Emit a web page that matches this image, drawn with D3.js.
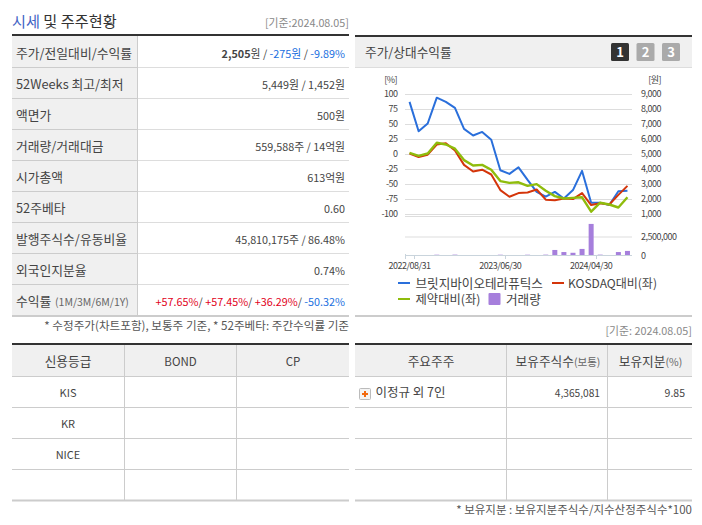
<!DOCTYPE html>
<html>
<head>
<meta charset="utf-8">
<script src="https://cdn.jsdelivr.net/npm/d3@7"></script>
<style>
  html, body { margin: 0; padding: 0; background: #fff; }
  text { font-family: "Noto Sans CJK KR", "Noto Sans", sans-serif; }
</style>
</head>
<body>
<div id="my_dataviz"></div>
<script>
// chart data
var months = ["2022/08/31","2022/09/30","2022/10/31","2022/11/30","2022/12/31","2023/01/31","2023/02/28","2023/03/31","2023/04/30","2023/05/31","2023/06/30","2023/07/31","2023/08/31","2023/09/30","2023/10/31","2023/11/30","2023/12/31","2024/01/31","2024/02/29","2024/03/31","2024/04/30","2024/05/31","2024/06/30","2024/07/31","2024/08/05"];
var stock  = [86,37,50,93,86,76,41,30,36,23,-28,-34,-23,-44,-64,-72,-64,-75,-61,-29,-82,-82,-86,-63,-62];
var kosdaq = [0,-6,-2,15,17,5,-19,-30,-27,-35,-61,-72,-66,-65,-60,-77,-78,-75,-76,-66,-86,-83,-85,-69,-54];
var pharma = [1,-4,0,18,15,8,-11,-20,-19,-27,-46,-49,-48,-54,-51,-62,-71,-75,-74,-73,-97,-82,-85,-90,-73];
var volume = [0,0,0,40000,0,50000,0,0,0,0,40000,0,0,40000,0,50000,680000,400000,300000,820000,4200000,50000,0,400000,550000];

var leftTicks = [100,75,50,25,0,-25,-50,-75,-100];
var rightTicks = [9000,8000,7000,6000,5000,4000,3000,2000,1000];
var volTicks = [0,2500000];
var xTickLabels = ["2022/08/31","2023/06/30","2024/04/30"];

// price table
var priceLabels = ["주가/전일대비/수익률","52Weeks 최고/최저","액면가","거래량/거래대금","시가총액","52주베타","발행주식수/유동비율","외국인지분율","수익률"];
var priceValues = ["5,449원 / 1,452원","500원","559,588주 / 14억원","613억원","0.60","45,810,175주 / 86.48%","0.74%"];
var returns = ["+57.65%","+57.45%","+36.29%","-50.32%"];

// lower tables
var ratingHeaders = ["신용등급","BOND","CP"];
var ratingAgencies = ["KIS","KR","NICE",""];
var holderHeaders = ["주요주주","보유주식수","보유지분"];
var holderName = "이정규 외 7인";
var holderShares = "4,365,081";
var holderPct = "9.85";

var legendNames = ["브릿지바이오테라퓨틱스","KOSDAQ대비(좌)","제약대비(좌)","거래량"];
var colors = {stock:"#2a6fdb", kosdaq:"#d4350a", pharma:"#8fbc0c", vol:"#a67fdc"};

var svg = d3.select("#my_dataviz").append("svg")
  .attr("width", 702).attr("height", 525)
  .style("display", "block");

var ink = "#444", grid = "#ddd", rule = "#ccc", dark = "#333", head = "#f0f0f0";

function line(g, x1, y1, x2, y2, color, w) {
  g.append("line").attr("x1",x1).attr("y1",y1).attr("x2",x2).attr("y2",y2)
    .attr("stroke",color).attr("stroke-width",w||1);
}
function label(g, x, y, str, size, anchor, color) {
  return g.append("text").attr("x",x).attr("y",y).text(str)
    .attr("font-size",size).attr("text-anchor",anchor||"start").attr("fill",color||ink);
}
// axis numbers are squeezed in the reference
function axisLabel(g, x, y, str, anchor) {
  return label(g, x, y, str, 9, anchor).style("letter-spacing","-0.5px");
}

// ---- price table ----
var t1 = svg.append("g");
var h1 = label(t1, 12, 27, "", 15.2);
h1.append("tspan").text("시세").attr("fill","#3f63c4");
h1.append("tspan").text(" 및 주주현황").attr("fill","#333");
label(t1, 349, 27, "[기준:2024.08.05]", 10.8, "end", "#888");

var rowY = d3.range(10).map(function(i) { return 36 + 31*i; });
t1.append("rect").attr("x",12).attr("y",36).attr("width",125).attr("height",279).attr("fill",head);
rowY.slice(1,9).forEach(function(y) { line(t1, 12, y+0.5, 349, y+0.5, "#ddd"); line(t1, 12, y+0.5, 137, y+0.5, rule); });
line(t1, 137.5, 36, 137.5, 315, rule);
line(t1, 12, 35, 349, 35, dark, 2);
line(t1, 12, 316, 349, 316, rule, 2);
priceLabels.forEach(function(s, i) { label(t1, 16, rowY[i]+22, s, 12.8); });
label(t1, 55, rowY[8]+21.5, "(1M/3M/6M/1Y)", 10.5, "start", "#666");

var first = label(t1, 345, rowY[0]+21.5, "", 10.8, "end");
first.append("tspan").text("2,505").attr("font-weight","bold");
first.append("tspan").text("원 / ");
first.append("tspan").text("-275원").attr("fill","#1a6fe0");
first.append("tspan").text(" / ");
first.append("tspan").text("-9.89%").attr("fill","#1a6fe0");
priceValues.forEach(function(s, i) { label(t1, 345, rowY[i+1]+21.5, s, 10.8, "end"); });
var ret = label(t1, 345, rowY[8]+21.5, "", 10.8, "end");
returns.forEach(function(s, i) {
  ret.append("tspan").text(s).attr("fill", s[0]=="+" ? "#e2001a" : "#1a6fe0");
  if (i<3) ret.append("tspan").text("/ ");
});
label(t1, 349, 330, "* 수정주가(차트포함), 보통주 기준, * 52주베타: 주간수익률 기준", 11.6, "end", "#555");

// ---- chart panel ----
var p = svg.append("g");
p.append("rect").attr("x",355).attr("y",36).attr("width",337).attr("height",31).attr("fill",head);
line(p, 355, 36, 692, 36, dark, 2);
line(p, 355, 67.5, 692, 67.5, "#ddd");
line(p, 355, 316, 692, 316, rule, 2);
label(p, 365, 57, "주가/상대수익률", 12.7, "start", "#444");
["1","2","3"].forEach(function(s, i) {
  p.append("rect").attr("x",611+25.5*i).attr("y",43).attr("width",18).attr("height",18).attr("rx",1.5)
    .attr("fill", i==0 ? "#333" : "#aaa");
  label(p, 620+25.5*i, 57, s, 13, "middle", "#fff").attr("font-weight","bold");
});

var x = d3.scaleBand().domain(months).range([405, 632]);
var y = d3.scaleLinear().domain([-100,100]).range([213.5, 93.5]);
var yr = d3.scaleLinear().domain([1000,9000]).range([213.5, 93.5]);
var yv = d3.scaleLinear().domain([0,2500000]).range([255, 236.5]);

var cx = function(d, i) { return x(months[i]) + x.bandwidth()/2; };

// gridlines, one set for each part of the plot
var plot = svg.append("g");
leftTicks.forEach(function(t) { line(plot, 405, Math.round(y(t))+0.5, 632, Math.round(y(t))+0.5, grid); });
line(plot, 405, 216.5, 632, 216.5, grid);
line(plot, 405, yv(2500000)+0.5, 632, yv(2500000)+0.5, grid);
line(plot, 405, 255.5, 632, 255.5, "#c9d4dc");
line(plot, 405.5, 254, 405.5, 259, "#c9d4dc");
xTickLabels.forEach(function(s) {
  var tx = Math.round(x(s) + x.bandwidth()) + 0.5;
  line(plot, tx, 255, tx, 259, "#c9d4dc");
  axisLabel(plot, x(s) + x.bandwidth()/2, 269, s, "middle");
});

// axes
var ax = svg.append("g");
leftTicks.forEach(function(t) { axisLabel(ax, 397.5, y(t)+3.5, String(t), "end"); });
rightTicks.forEach(function(t) { axisLabel(ax, 641, yr(t)+3.5, d3.format(",")(t)); });
volTicks.forEach(function(t) { axisLabel(ax, 641, yv(t)+3.5, d3.format(",")(t)); });
axisLabel(ax, 397, 83, "[%]", "end");
axisLabel(ax, 661, 83, "[원]", "end");

// volume bars
svg.append("g").selectAll("rect").data(volume).enter().append("rect")
  .attr("x", function(d, i) { return cx(d, i) - 2.5; })
  .attr("width", 5)
  .attr("y", function(d) { return yv(d); })
  .attr("height", function(d) { return 255 - yv(d); })
  .attr("fill", colors.vol);

// lines
var path = d3.line().x(cx).y(function(d) { return y(d); });
[[stock,colors.stock,2],[kosdaq,colors.kosdaq,2],[pharma,colors.pharma,2.4]].forEach(function(s) {
  svg.append("path").datum(s[0]).attr("d", path).attr("fill","none")
    .attr("stroke", s[1]).attr("stroke-width", s[2]).attr("stroke-linejoin","round");
});

// legend
var lg = svg.append("g");
var legendPos = [[398,283,colors.stock,415.5,0,12.6],[552,283,colors.kosdaq,568,1,12],[398,299,colors.pharma,415.5,2,12.3]];
legendPos.forEach(function(l) {
  line(lg, l[0], l[1], l[0]+12, l[1], l[2], 2);
  label(lg, l[3], l[1]+4.5, legendNames[l[4]], l[5], "start", "#444");
});
lg.append("rect").attr("x",488.5).attr("y",293).attr("width",12).attr("height",12).attr("rx",1).attr("fill",colors.vol);
label(lg, 506, 303.5, legendNames[3], 12.6, "start", "#444");

// ---- credit rating table ----
var t2 = svg.append("g");
var lowY = [345,376,407,438,469,500];
t2.append("rect").attr("x",12).attr("y",345).attr("width",337).attr("height",31).attr("fill",head);
line(t2, 12, 344, 349, 344, dark, 2);
lowY.slice(1,5).forEach(function(yy) { line(t2, 12, yy+0.5, 349, yy+0.5, rule); });
line(t2, 12, 500.5, 349, 500.5, rule, 2);
[124.5,236.5].forEach(function(xx) { line(t2, xx, 345, xx, 500, rule); });
var colMid = [68,180.5,293];
ratingHeaders.forEach(function(s, i) { label(t2, colMid[i], 366, s, i==0 ? 12.7 : 11.5, "middle"); });
ratingAgencies.forEach(function(s, i) { label(t2, 68, lowY[i+1]+21, s, 11, "middle"); });

// ---- shareholder table ----
var t3 = svg.append("g");
t3.append("rect").attr("x",355).attr("y",345).attr("width",337).attr("height",31).attr("fill",head);
line(t3, 355, 344, 692, 344, dark, 2);
lowY.slice(1,5).forEach(function(yy) { line(t3, 355, yy+0.5, 692, yy+0.5, rule); });
line(t3, 355, 500.5, 692, 500.5, rule, 2);
[506.5,607.5].forEach(function(xx) { line(t3, xx, 345, xx, 500, rule); });
label(t3, 431, 366, holderHeaders[0], 12.7, "middle");
var hh = label(t3, 558, 366, "", 12.7, "middle");
hh.append("tspan").text(holderHeaders[1]);
hh.append("tspan").text("(보통)").attr("font-size",10.5).attr("fill","#666");
var hp = label(t3, 650.5, 366, "", 12.7, "middle");
hp.append("tspan").text(holderHeaders[2]);
hp.append("tspan").text("(%)").attr("font-size",10.5).attr("fill","#666");
t3.append("rect").attr("x",359.5).attr("y",388.5).attr("width",11).attr("height",11).attr("rx",1).attr("fill","#f4f4f4").attr("stroke","#bbb");
line(t3, 362, 394, 368, 394, "#f26a0f", 2);
line(t3, 365, 391, 365, 397, "#f26a0f", 2);
label(t3, 375.5, 397, holderName, 12.5);
label(t3, 600, 397, holderShares, 10.2, "end");
label(t3, 685, 397, holderPct, 10.5, "end");
label(t3, 692, 514, "* 보유지분 : 보유지분주식수/지수산정주식수*100", 11.5, "end", "#555");
label(t3, 692, 335, "[기준: 2024.08.05]", 10.8, "end", "#888");
</script>
</body>
</html>
